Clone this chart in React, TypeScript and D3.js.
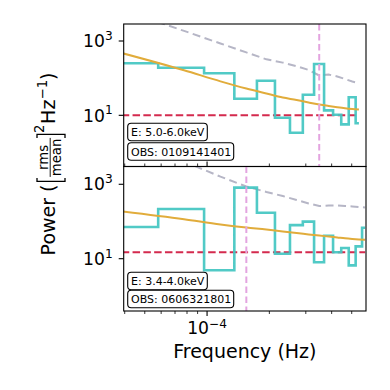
import * as d3 from "d3";
import { useRef, useEffect } from "react";

// frequency bins (Hz), shared by both panels
const freqs = [
  3.87e-5, 7.74e-5, 1.161e-4, 1.548e-4, 1.935e-4, 2.322e-4, 2.709e-4, 3.096e-4,
  3.483e-4, 3.87e-4, 4.257e-4, 4.644e-4, 5.031e-4, 5.418e-4, 5.805e-4,
];

// top panel, 5.0-6.0 keV
const power1 = [251, 191, 135, 28, 85, 8.6, 3.4, 35.9, 240, 13.6, 10.4, 5.7, 30.5, 6.1];
const model1 = [475, 163, 82, 52.6, 38.6, 30.1, 25.8, 22.1, 19.5, 17.8, 16.5, 15.5, 14.8, 14.3];
const signif1 = [7000, 1870, 857, 493, 321, 262, 209, 166, 118, 125, 111, 95, 81, 74];
const noise1 = 10;
const peak1 = 3.483e-4;
const energy1 = "E: 5.0-6.0keV";
const obs1 = "OBS: 0109141401";

// bottom panel, 3.4-4.0 keV
const power2 = [71, 217, 4.9, 811, 172, 13.6, 80, 99, 8.0, 41.5, 14.9, 19.4, 6.6, 21.5, 68];
const model2 = [188, 115, 83, 68.5, 60.6, 53.8, 49.1, 45, 41.8, 39.3, 37.2, 35.3, 34, 33, 32.2];
const signif2 = [9000, 4100, 1600, 873, 621, 484, 378, 305, 261, 269, 269, 261, 253, 245, 238];
const noise2 = 14.9;
const peak2 = 1.548e-4;
const energy2 = "E: 3.4-4.0keV";
const obs2 = "OBS: 0606321801";

const yTicks = [10, 1000];

const FONT = "DejaVu Sans";

const App = () => {
  const container = useRef(null);

  useEffect(() => {
    createChart();
  });

  const createChart = () => {
    let node = container.current;
    let svg = d3.select(node);
    svg.selectAll("*").remove();

    let left = 123.7;
    let right = 366;

    let xScale = d3.scaleLog().domain([3.955e-5, 5.862e-4]).range([left, right]);

    let panels = [
      {
        top: 24, bottom: 166.5, ydom: [0.419, 2868],
        power: power1, model: model1, signif: signif1, noise: noise1, peak: peak1,
        energy: energy1, obs: obs1, boxE: 123.3, boxO: 142.7, tickDir: -1,
      },
      {
        top: 166.5, bottom: 311, ydom: [0.393, 3006],
        power: power2, model: model2, signif: signif2, noise: noise2, peak: peak2,
        energy: energy2, obs: obs2, boxE: 272.3, boxO: 290.3, tickDir: 1,
      },
    ];

    let stepPoints = (f, v) => {
      let pts = [];
      for (let i = 0; i < v.length; i++) {
        let lo = i === 0 ? f[0] : (f[i - 1] + f[i]) / 2;
        let hi = i === v.length - 1 ? f[i] : (f[i] + f[i + 1]) / 2;
        pts.push([lo, v[i]], [hi, v[i]]);
      }
      return pts;
    };

    panels.forEach((p, pi) => {
      let yScale = d3.scaleLog().domain(p.ydom).range([p.bottom, p.top]);
      let n = p.power.length;
      let f = freqs.slice(0, n);

      svg
        .append("clipPath")
        .attr("id", `clip-${pi}`)
        .append("rect")
        .attr("x", left)
        .attr("y", p.top)
        .attr("width", right - left)
        .attr("height", p.bottom - p.top);

      let g = svg.append("g").attr("clip-path", `url(#clip-${pi})`);

      let line = d3
        .line()
        .x((d) => xScale(d[0]))
        .y((d) => yScale(d[1]));

      // significance level
      g.append("path")
        .attr("d", line(f.map((d, i) => [d, p.signif[i]])))
        .attr("fill", "none")
        .attr("stroke", "#b6b6c6")
        .attr("stroke-width", 2)
        .attr("stroke-dasharray", "8,4.5");

      // noise level
      g.append("line")
        .attr("x1", xScale(f[0]))
        .attr("x2", xScale(f[n - 1]))
        .attr("y1", yScale(p.noise))
        .attr("y2", yScale(p.noise))
        .attr("stroke", "#d42a4e")
        .attr("stroke-width", 2)
        .attr("stroke-dasharray", "7.5,3.3");

      // periodogram
      g.append("path")
        .attr("d", line(stepPoints(f, p.power)))
        .attr("fill", "none")
        .attr("stroke", "#42c5c1")
        .attr("stroke-opacity", 0.92)
        .attr("stroke-width", 2.6);

      // model
      g.append("path")
        .attr(
          "d",
          d3
            .line()
            .x((d) => xScale(d[0]))
            .y((d) => yScale(d[1]))
            .curve(d3.curveMonotoneX)(f.map((d, i) => [d, p.model[i]]))
        )
        .attr("fill", "none")
        .attr("stroke", "#e1ac3b")
        .attr("stroke-width", 2);

      // peak frequency
      g.append("line")
        .attr("x1", xScale(p.peak))
        .attr("x2", xScale(p.peak))
        .attr("y1", p.top)
        .attr("y2", p.bottom)
        .attr("stroke", "#e3a4e0")
        .attr("stroke-width", 2)
        .attr("stroke-dasharray", "6.5,3.5");

      // frame
      svg
        .append("rect")
        .attr("x", left)
        .attr("y", p.top)
        .attr("width", right - left)
        .attr("height", p.bottom - p.top)
        .attr("fill", "none")
        .attr("stroke", "black")
        .attr("stroke-width", 1.1);

      // y ticks
      yTicks.forEach((t) => {
        let yy = yScale(t);
        svg
          .append("line")
          .attr("x1", left - 5)
          .attr("x2", left)
          .attr("y1", yy)
          .attr("y2", yy)
          .attr("stroke", "black")
          .attr("stroke-width", 1.1);
        let txt = svg
          .append("text")
          .attr("x", left - 11)
          .attr("y", yy + 6.2)
          .attr("text-anchor", "end")
          .attr("font-family", FONT)
          .attr("font-size", 17.2);
        txt.append("tspan").text("10");
        txt
          .append("tspan")
          .attr("dy", -7.2)
          .attr("font-size", 12.2)
          .text(String(Math.round(Math.log10(t))));
      });

      // x ticks
      xScale.ticks().forEach((t) => {
        let major = Math.abs(Math.log10(t) - Math.round(Math.log10(t))) < 1e-6;
        let len = major ? 5 : 3;
        let xx = xScale(t);
        svg
          .append("line")
          .attr("x1", xx)
          .attr("x2", xx)
          .attr("y1", p.bottom)
          .attr("y2", p.bottom + p.tickDir * len)
          .attr("stroke", "black")
          .attr("stroke-width", major ? 1.1 : 0.8);
      });

      // label boxes
      [
        [p.energy, p.boxE, 79.6],
        [p.obs, p.boxO, 106],
      ].forEach(([label, by, bw]) => {
        svg
          .append("rect")
          .attr("x", 127.7)
          .attr("y", by)
          .attr("width", bw)
          .attr("height", 17.5)
          .attr("rx", 3.5)
          .attr("fill", "white")
          .attr("stroke", "black")
          .attr("stroke-width", 1.1);
        svg
          .append("text")
          .attr("x", 131)
          .attr("y", by + 13)
          .attr("font-family", FONT)
          .attr("font-size", 11)
          .text(label);
      });
    });

    // x tick label
    let xl = svg
      .append("text")
      .attr("x", xScale(1e-4))
      .attr("y", 334.3)
      .attr("text-anchor", "middle")
      .attr("font-family", FONT)
      .attr("font-size", 17.2);
    xl.append("tspan").text("10");
    xl.append("tspan").attr("dy", -6).attr("font-size", 12.2).text("\u22124");

    // x axis title
    svg
      .append("text")
      .attr("x", (left + right) / 2)
      .attr("y", 357.5)
      .attr("text-anchor", "middle")
      .attr("font-family", FONT)
      .attr("font-size", 19)
      .text("Frequency (Hz)");

    // y axis title, laid out horizontally then rotated
    let yl = svg
      .append("g")
      .attr("transform", "translate(55,163.4) rotate(-90)")
      .attr("font-family", FONT);
    let x0 = -92;
    yl.append("text").attr("x", x0).attr("y", 0).attr("font-size", 19).text("Power (");
    let bx = x0 + 74;
    yl.append("path")
      .attr("d", `M${bx + 3.5},-18 H${bx} V10 H${bx + 3.5}`)
      .attr("fill", "none")
      .attr("stroke", "black")
      .attr("stroke-width", 1.3);
    let fc = bx + 24;
    yl.append("text").attr("x", fc).attr("y", -7).attr("text-anchor", "middle").attr("font-size", 13.3).text("rms");
    yl.append("line")
      .attr("x1", fc - 19.5)
      .attr("x2", fc + 19.5)
      .attr("y1", -4.8)
      .attr("y2", -4.8)
      .attr("stroke", "black")
      .attr("stroke-width", 0.9);
    yl.append("text").attr("x", fc).attr("y", 6).attr("text-anchor", "middle").attr("font-size", 13.3).text("mean");
    let bx2 = fc + 23;
    yl.append("path")
      .attr("d", `M${bx2 - 3.5},-18 H${bx2} V10 H${bx2 - 3.5}`)
      .attr("fill", "none")
      .attr("stroke", "black")
      .attr("stroke-width", 1.3);
    yl.append("text").attr("x", bx2 + 1.5).attr("y", -11).attr("font-size", 13.3).text("2");
    yl.append("text").attr("x", bx2 + 10.5).attr("y", 0).attr("font-size", 19).text("Hz");
    yl.append("text").attr("x", bx2 + 35).attr("y", -8).attr("font-size", 13.3).text("\u22121");
    yl.append("text").attr("x", bx2 + 54.5).attr("y", 0).attr("font-size", 19).text(")");
  };

  return (
    <svg
      ref={container}
      width={390}
      height={390}
      style={{ position: "absolute", left: 0, top: 0, background: "white" }}
    ></svg>
  );
};

export default App;
